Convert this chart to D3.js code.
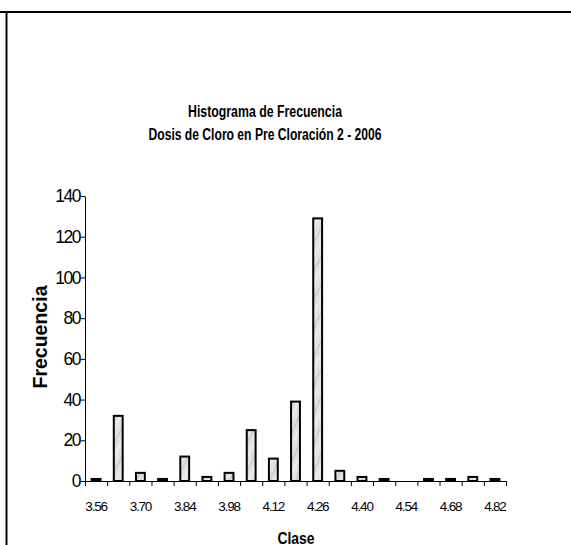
<!DOCTYPE html>
<html>
<head>
<meta charset="utf-8">
<script src="https://cdn.jsdelivr.net/npm/d3@7"></script>
<style>
  body { margin: 0; background: #fff; }
  svg { display: block; }
  text { font-family: "Liberation Sans", Arial, sans-serif; fill: #000; }
</style>
</head>
<body>
<svg width="571" height="545"></svg>
<script>
var clases = ['3.56','3.63','3.70','3.77','3.84','3.91','3.98','4.05','4.12','4.19',
              '4.26','4.33','4.40','4.47','4.54','4.61','4.68','4.75','4.82'];
var frecuencias = [1, 32, 4, 1, 12, 2, 4, 25, 11, 39, 129, 5, 2, 1, 0, 1, 1, 2, 1];
var etiquetasX = ['3.56','3.70','3.84','3.98','4.12','4.26','4.40','4.54','4.68','4.82'];
var ticksY = [0, 20, 40, 60, 80, 100, 120, 140];
var titulo = ['Histograma de Frecuencia', 'Dosis de Cloro en Pre Cloración 2 - 2006'];

var svg = d3.select('svg'),
    width = +svg.attr('width'),
    height = +svg.attr('height'),
    mIzq = 85, mDer = 506, mSup = 196, mInf = 481;

var defs = svg.append('defs');

// marbled grey fill for the bars
var pat = defs.append('pattern')
    .attr('id', 'marmol')
    .attr('patternUnits', 'userSpaceOnUse')
    .attr('width', 12).attr('height', 24)
    .attr('patternTransform', 'rotate(25)');
pat.append('rect').attr('width', 12).attr('height', 24).attr('fill', '#e2e2e2');
pat.append('path').attr('d', 'M3 0 C5 6 1 12 4 24').attr('stroke', '#c8c8c8').attr('stroke-width', 1.5).attr('fill', 'none');
pat.append('path').attr('d', 'M9 0 C7 8 11 14 8 24').attr('stroke', '#f0f0f0').attr('stroke-width', 1.5).attr('fill', 'none');

// frame lines
svg.append('line').attr('x1', 0).attr('x2', width).attr('y1', 12).attr('y2', 12)
   .attr('stroke', '#000').attr('stroke-width', 2);
svg.append('line').attr('x1', 6.5).attr('x2', 6.5).attr('y1', 11).attr('y2', height)
   .attr('stroke', '#000').attr('stroke-width', 2);

var datos = clases.map(function(c, i) { return { clase: c, valor: frecuencias[i] }; })
                  .filter(function(d) { return d.valor > 0; });

var x = d3.scaleBand()
    .domain(clases)
    .range([mIzq, mDer])
    .paddingInner(0.6)
    .paddingOuter(0.3);

var xLimites = d3.scaleLinear()
    .domain([0, clases.length])
    .range([mIzq, mDer]);

var y = d3.scaleLinear()
    .domain([0, 140])
    .range([mInf, mSup]);

// bars
svg.append('g')
  .selectAll('rect')
  .data(datos)
  .enter().append('rect')
    .attr('x', function(d) { return x(d.clase); })
    .attr('y', function(d) { return y(d.valor); })
    .attr('width', x.bandwidth())
    .attr('height', function(d) { return mInf - y(d.valor); })
    .attr('fill', 'url(#marmol)')
    .attr('stroke', '#000')
    .attr('stroke-width', 2);

// y axis
var yAxis = svg.append('g')
    .attr('transform', 'translate(' + mIzq + ',0)')
    .call(d3.axisLeft(y).tickValues(ticksY).tickSize(4).tickSizeOuter(0).tickPadding(1));
yAxis.selectAll('text')
    .style('font-size', '17.5px')
    .style('letter-spacing', '-1.5px');

// x axis: ticks at class boundaries
svg.append('g')
    .attr('transform', 'translate(0,' + mInf + ')')
    .call(d3.axisBottom(xLimites).tickValues(d3.range(clases.length + 1)).tickSize(5).tickSizeOuter(0).tickFormat(''));

var xEtiq = svg.append('g')
    .attr('transform', 'translate(0,' + mInf + ')')
    .call(d3.axisBottom(x).tickValues(etiquetasX).tickSize(0).tickPadding(20));
xEtiq.select('.domain').remove();
xEtiq.selectAll('text')
    .style('font-size', '13.5px')
    .style('letter-spacing', '-1.2px');

svg.selectAll('.domain, .tick line').attr('stroke', '#000');

// titles
svg.selectAll('.titulo')
  .data(titulo)
  .enter().append('text')
    .attr('class', 'titulo')
    .attr('x', 265)
    .attr('y', function(d, i) { return 117 + i * 23; })
    .attr('text-anchor', 'middle')
    .attr('textLength', function(d, i) { return i ? 233 : 154; })
    .attr('lengthAdjust', 'spacingAndGlyphs')
    .style('font-size', '16px')
    .style('font-weight', 'bold')
    .text(function(d) { return d; });

svg.append('text')
    .attr('transform', 'translate(47,337) rotate(-90)')
    .attr('text-anchor', 'middle')
    .style('font-size', '19.5px')
    .style('font-weight', 'bold')
    .text('Frecuencia');

svg.append('text')
    .attr('x', 296)
    .attr('y', 544)
    .attr('text-anchor', 'middle')
    .attr('textLength', 37)
    .attr('lengthAdjust', 'spacingAndGlyphs')
    .style('font-size', '17px')
    .style('font-weight', 'bold')
    .text('Clase');
</script>
</body>
</html>
